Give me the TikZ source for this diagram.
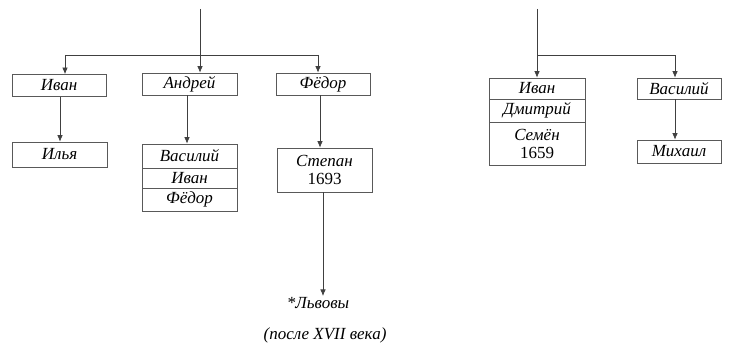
\documentclass[tikz,border=0pt]{standalone}
\usepackage{fontspec}
\setmainfont{Liberation Serif}
\usetikzlibrary{arrows.meta,calc,positioning}

\begin{document}
\begin{tikzpicture}[x=1pt,y=-1pt,>={Latex[length=6.5pt,width=5.5pt]},
    person/.style={draw=black!65,line width=0.7pt,minimum width=94pt,
      minimum height=22pt,inner sep=0pt,font=\fontsize{17}{18}\selectfont\itshape},
    link/.style={draw=black!75,line width=0.7pt}]
  \useasboundingbox (0,0) rectangle (734,347);
  % left branch
  \coordinate (topL) at (200,9);
  \coordinate (barL) at (200,55);
  \node[person] (ivanA) at (59,85.5) {Иван};
  \node[person,minimum width=95pt] (andrey) at (189.5,84) {Андрей};
  \node[person] (fedor) at (323,84) {Фёдор};
  \node[person,minimum width=95pt,minimum height=25pt] (ilya) at (59.5,154.5) {Илья};
  \node[person,minimum width=95pt,minimum height=24pt] (vasA) at (189.5,156) {Василий};
  \node[person,minimum width=95pt,minimum height=20pt] (ivanB) at (189.5,178) {Иван};
  \node[person,minimum width=95pt,minimum height=23pt] (fedorB) at (189.5,199.5) {Фёдор};
  \node[person,minimum width=95pt,minimum height=44pt,align=center] (stepan) at (324.5,170)
    {Степан\\\upshape 1693};
  \node[font=\fontsize{17}{18}\selectfont\itshape,inner sep=1pt,anchor=north] (lvov) at (318,296) {*Львовы};
  \node[font=\fontsize{17}{18}\selectfont\itshape] (note) at (325,335) {(после XVII века)};
  \draw[link,->] (topL) -- (topL |- andrey.north);
  \draw[link,->] ([xshift=6pt]ivanA.north |- barL) -- ([xshift=6pt]ivanA.north);
  \draw[link] ([xshift=6pt]ivanA.north |- barL) -- ([xshift=-5pt]fedor.north |- barL);
  \draw[link,->] ([xshift=-5pt]fedor.north |- barL) -- ([xshift=-5pt]fedor.north);
  \draw[link,->] ([xshift=1pt]ivanA.south) -- ([xshift=1pt]ivanA.south |- ilya.north);
  \draw[link,->] ([xshift=-2.5pt]andrey.south) -- ([xshift=-2.5pt]andrey.south |- vasA.north);
  \draw[link,->] ([xshift=-3pt]fedor.south) -- ([xshift=-3pt]fedor.south |- stepan.north);
  \draw[link,->] ([xshift=-1.5pt]stepan.south) -- ([xshift=-1.5pt]stepan.south |- lvov.north);
  % right branch
  \coordinate (topR) at (537,9);
  \coordinate (barR) at (537,55);
  \node[person,minimum width=96pt,minimum height=21pt] (ivanC) at (537,88.5) {Иван};
  \node[person,minimum width=96pt,minimum height=23pt] (dmitry) at (537,110.5) {Дмитрий};
  \node[person,minimum width=96pt,minimum height=43pt,align=center] (semen) at (537,143.5)
    {Семён\\\upshape 1659};
  \node[person,minimum width=84pt,minimum height=21pt] (vasC) at (679,88.5) {Василий};
  \node[person,minimum width=84pt,minimum height=23pt] (mikhail) at (679,151.5) {Михаил};
  \draw[link,->] (topR) -- (ivanC.north);
  \draw[link,->] (barR) -| ([xshift=-4pt]vasC.north);
  \draw[link,->] ([xshift=-4pt]vasC.south) -- ([xshift=-4pt]mikhail.north);
\end{tikzpicture}
\end{document}
